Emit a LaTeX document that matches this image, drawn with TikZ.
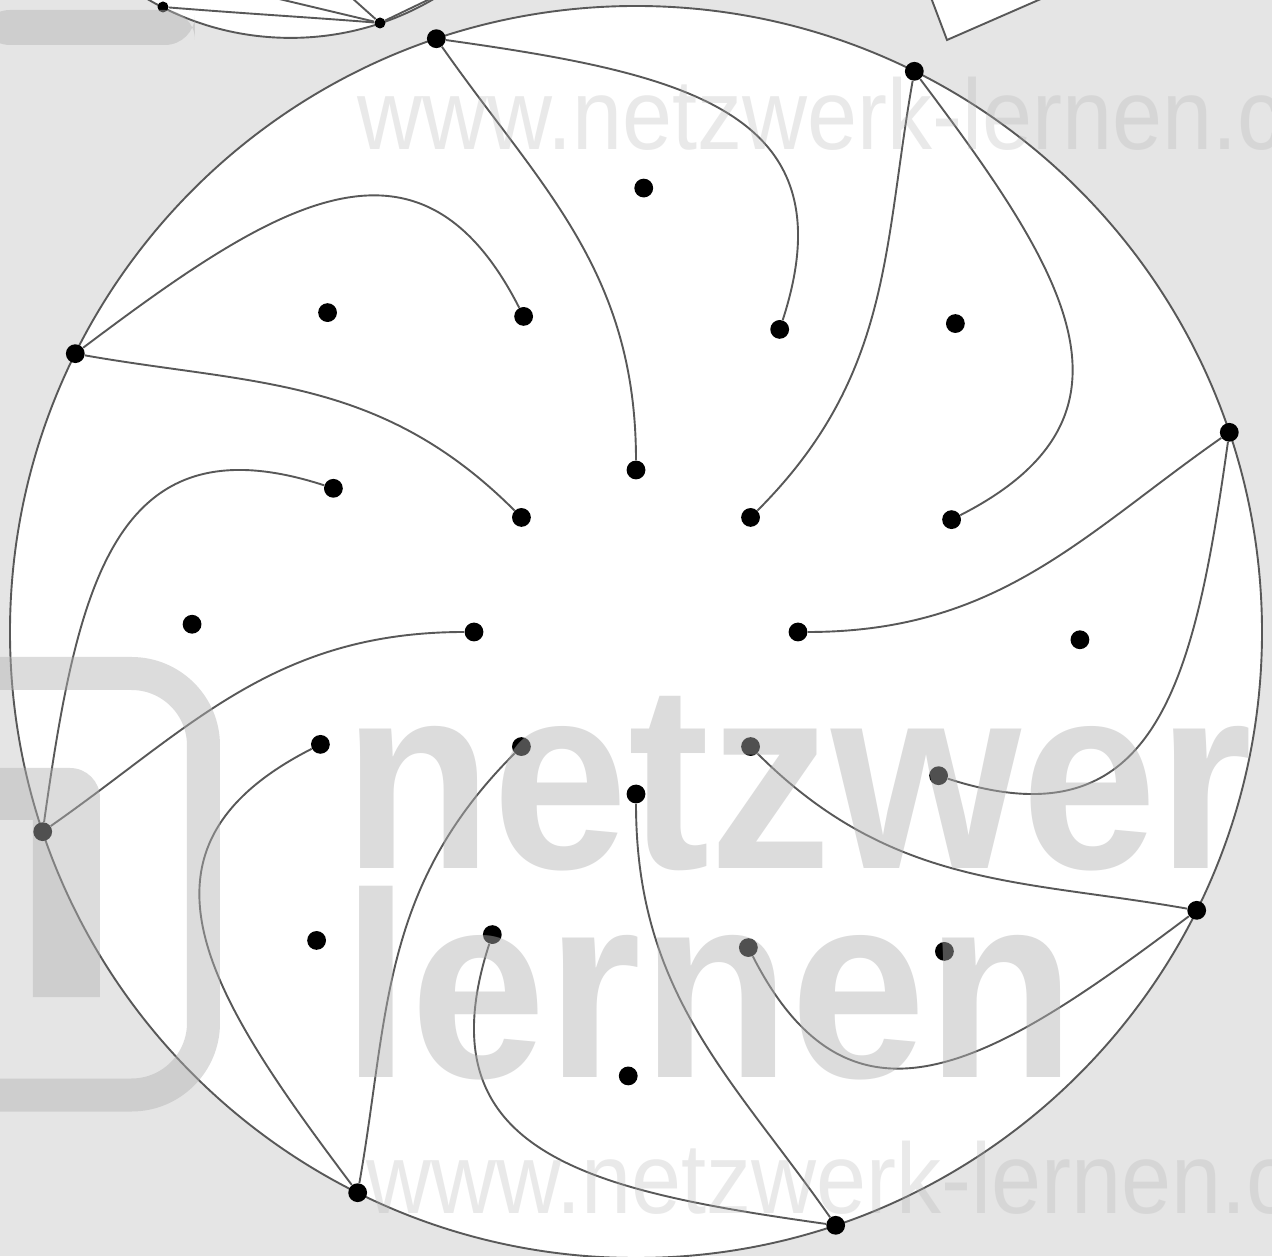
\documentclass[tikz,border=0pt]{standalone}
\usepackage{fontspec}
\setmainfont{Liberation Sans}
\definecolor{bg}{RGB}{229,229,229}
\definecolor{ln}{RGB}{88,88,88}
\definecolor{wm}{RGB}{178,178,178}
\begin{document}
\begin{tikzpicture}[x=0.5pt,y=0.5pt,
  dot/.style={circle, fill=black, inner sep=0pt, minimum size=9.4pt},
  smalldot/.style={circle, fill=black, inner sep=0pt, minimum size=5.5pt},
  conn/.style={draw=ln, line width=0.95pt},
  wmfill/.style={fill=wm, opacity=0.45},
  wmtext/.style={anchor=base west, inner sep=0pt, text=wm, text opacity=0.45, xscale=0.925,
     font=\fontsize{132pt}{132pt}\selectfont\bfseries},
  wmsmall/.style={anchor=base west, inner sep=0pt, text=wm, text opacity=0.28, xscale=0.9,
     font=\fontsize{50pt}{50pt}\selectfont}]
\useasboundingbox (-636,-624) rectangle (636,632);
\clip (-636,-624) rectangle (636,632);
\fill[bg] (-636,-624) rectangle (636,632);

% neighbouring pieces of the page (image coordinates)
\begin{scope}[shift={(-636,632)}, yscale=-1]
  \fill[white] (290.5,-244.7) circle (282.6);
  \draw[conn] (290.5,-244.7) circle (282.6);
  \node[smalldot] (n1) at (163,7) {};
  \node[smalldot] (n2) at (380,23) {};
  \coordinate (f1) at (275,-2);
  \coordinate (f2) at (352,-2);
  \coordinate (f3) at (432,-2);
  \draw[conn] (n1) .. controls (250,14) and (320,18) .. (n2);
  \draw[conn] (n2) -- (f1);
  \draw[conn] (n2) -- (f2);
  \draw[conn] (n2) -- (f3);
  \fill[white] (930,-5) -- (947,40) -- (1050,-5) -- cycle;
  \draw[conn] (930,-5) -- (947,40) -- (1050,-5);
\end{scope}

% main circle
\draw[conn, fill=white] (0,0) circle (626);

% points
\foreach \k in {0,...,7}{
  \pgfmathsetmacro\t{108.6-45*\k}
  \pgfmathsetmacro\ta{90-45*\k}
  \pgfmathsetmacro\tb{64.6-45*\k}
  \pgfmathsetmacro\tc{89-45*\k}
  \node[dot] (o\k) at (\t:626) {};
  \node[dot] (a\k) at (\ta:162) {};
  \node[dot] (b\k) at (\tb:335) {};
  \node[dot] (c\k) at (\tc:444) {};
}

% connectors
\foreach \k in {0,...,7}{
  \pgfmathsetmacro\t{108.6-45*\k}
  \pgfmathsetmacro\oa{\t-163.6}
  \pgfmathsetmacro\ia{\t-18.6}
  \pgfmathsetmacro\ob{\t-116.6}
  \pgfmathsetmacro\ib{\t-36.6}
  \draw[conn] (o\k) .. controls +(\oa:180) and +(\ia:200) .. (a\k);
  \draw[conn] (o\k) .. controls +(\ob:250) and +(\ib:230) .. (b\k);
}

% watermark overlay (image coordinates)
\begin{scope}[shift={(-636,632)}, yscale=-1]
  \draw[draw=wm, opacity=0.45, line width=16.5pt, rounded corners=36pt]
    (-20,673.5) -- (203.5,673.5) -- (203.5,1095) -- (-20,1095);
  \fill[wmfill] (-10,768) -- (70,768) arc[start angle=-90, end angle=0, radius=30]
    -- (100,997) -- (33,997) -- (33,820) -- (-10,820) -- cycle;
  \fill[wmfill, rounded corners=15pt] (-20,10) rectangle (195,45);
  \node[wmtext] (w1) at (343,868) {netzwer};
  \node[wmtext] (w2) at (342,1077) {lernen};
  \node[wmsmall] (w3) at (357,150) {www.netzwerk-lernen.c};
  \node[wmsmall] (w4) at (366,1213) {www.netzwerk-lernen.c};
\end{scope}
\end{tikzpicture}
\end{document}
